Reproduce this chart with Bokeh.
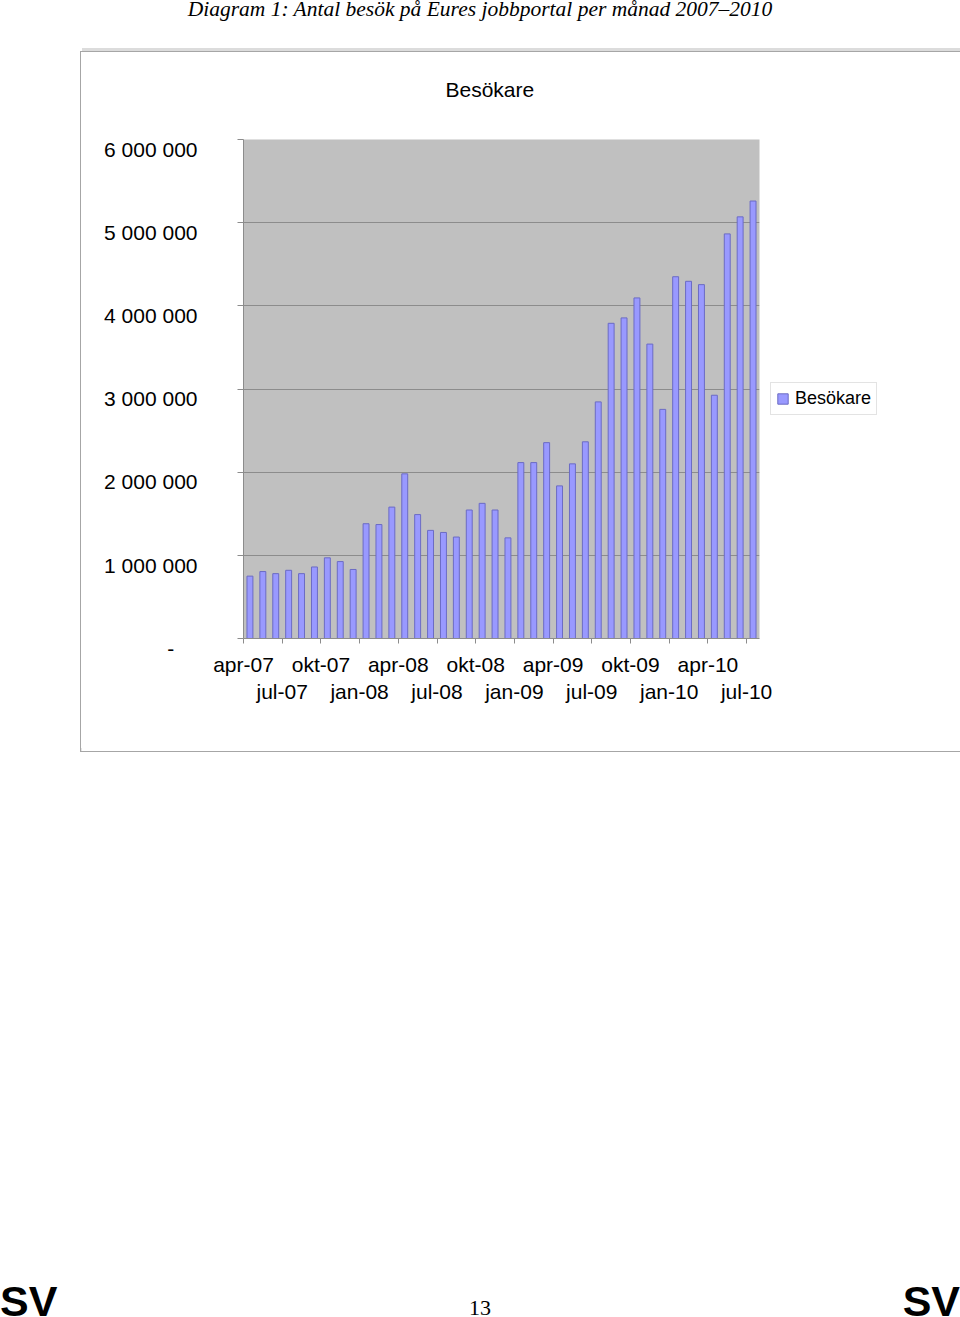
from bokeh.plotting import figure
from bokeh.models import Range1d, FixedTicker, Legend, LegendItem, Div
from bokeh.layouts import column
from bokeh.embed import file_html
from bokeh.resources import INLINE

# ---------------- data ----------------
months = [
    "apr-07", "maj-07", "jun-07", "jul-07", "aug-07", "sep-07", "okt-07", "nov-07", "dec-07",
    "jan-08", "feb-08", "mar-08", "apr-08", "maj-08", "jun-08", "jul-08", "aug-08", "sep-08",
    "okt-08", "nov-08", "dec-08", "jan-09", "feb-09", "mar-09", "apr-09", "maj-09", "jun-09",
    "jul-09", "aug-09", "sep-09", "okt-09", "nov-09", "dec-09", "jan-10", "feb-10", "mar-10",
    "apr-10", "maj-10", "jun-10", "jul-10",
]
visitors = [
    750000, 805000, 780000, 820000, 780000, 860000, 970000, 925000, 830000,
    1380000, 1370000, 1580000, 1980000, 1490000, 1300000, 1275000, 1220000, 1545000,
    1625000, 1545000, 1210000, 2115000, 2115000, 2355000, 1835000, 2100000, 2365000,
    2845000, 3790000, 3855000, 4095000, 3540000, 2755000, 4350000, 4295000, 4255000,
    2925000, 4865000, 5070000, 5260000,
]
y_ticks = [0, 1000000, 2000000, 3000000, 4000000, 5000000, 6000000]
y_tick_labels = ["-\u00a0\u00a0\u00a0\u00a0", "1 000 000", "2 000 000", "3 000 000",
                 "4 000 000", "5 000 000", "6 000 000"]
label_step = 3
series_name = "Besökare"
chart_title = "Besökare"
page_title = "Diagram 1: Antal besök på Eures jobbportal per månad 2007–2010"
page_number = "13"
lang_mark = "SV"

FONT = "Liberation Sans"
GRID = "#8c8c8c"

x = list(range(len(months)))

p = figure(
    frame_width=514, frame_height=497,
    min_border_left=162, min_border_right=119, min_border_top=87, min_border_bottom=115,
    x_range=Range1d(-0.5, len(months) - 0.5),
    y_range=Range1d(y_ticks[0], y_ticks[-1]),
    output_backend="svg", toolbar_location=None,
    background_fill_color="#c0c0c0", border_fill_color="white",
    outline_line_color=None,
)
p.styles = {"border": "1px solid #a6a6a6",
            "box-shadow": "0 -5px 0 -2px #dcdcdc, inset 0 -6px 0 -3px #dcdcdc",
            "justify-self": "start", "align-self": "start"}
p.margin = (0, 0, 0, 80)

# title block: an empty second line lifts the title further from the plot area
p.title.text = chart_title + "\n"
p.title.align = "left"
p.title.offset = 202
p.title.standoff = 32
p.title.text_font = FONT
p.title.text_font_size = "21px"
p.title.text_font_style = "normal"
p.title.text_line_height = 1.0
p.title.text_color = "black"

r = p.vbar(x=x, top=visitors, width=0.46, fill_color="#9999ff",
           line_color="#6b6bc4", line_width=1)

# y axis (labels sit just below their gridline, as in the original)
ya = p.yaxis[0]
ya.ticker = FixedTicker(ticks=y_ticks)
ya.major_label_overrides = {t: "\n" + l for t, l in zip(y_ticks, y_tick_labels)}
ya.major_tick_out = 6
ya.major_tick_in = 0
ya.minor_tick_line_color = None
ya.axis_line_color = GRID
ya.major_tick_line_color = GRID
ya.major_label_text_font = FONT
ya.major_label_text_font_size = "21px"
ya.major_label_text_color = "black"
ya.major_label_text_line_height = 0.85
ya.major_label_standoff = 40

p.ygrid.ticker = FixedTicker(ticks=y_ticks)
p.ygrid.grid_line_color = GRID
p.xgrid.visible = False

# x axis: tick every 3 months, labels staggered on two rows
tick_idx = list(range(0, len(months), label_step))
xa = p.xaxis[0]
xa.ticker = FixedTicker(ticks=[i - 0.5 for i in tick_idx])
xa.major_label_overrides = {
    i - 0.5: (months[i] if k % 2 == 0 else "\n" + months[i]) for k, i in enumerate(tick_idx)
}
xa.major_label_text_font = FONT
xa.major_label_text_font_size = "21px"
xa.major_label_text_color = "black"
xa.major_label_text_line_height = 1.2
xa.major_label_standoff = 9
xa.major_tick_out = 5
xa.major_tick_in = 0
xa.minor_tick_line_color = None
xa.axis_line_color = GRID
xa.major_tick_line_color = GRID

# legend just right of the plot area (px offsets within the right-hand panel)
legend = Legend(
    items=[LegendItem(label=series_name, renderers=[r])],
    location=(11, 223), margin=0, padding=5, spacing=0,
    glyph_width=13, glyph_height=13, label_standoff=6,
    label_text_font=FONT, label_text_font_size="18px", label_text_color="black",
    border_line_color="#c8c8c8", background_fill_color="white", background_fill_alpha=1,
)
p.add_layout(legend, "right")

title_div = Div(
    text=('<div style="font-family:\'Liberation Serif\';font-style:italic;font-size:21.5px;'
          'line-height:20px;text-align:center;width:960px;margin-top:-1px;white-space:nowrap;">'
          + page_title + '</div>'),
    width=960, height=51, margin=0,
)

footer_div = Div(
    text=('<div style="position:relative;width:960px;height:560px;">'
          '<span style="position:absolute;left:0;top:532px;font-family:\'Liberation Sans\';'
          'font-weight:bold;font-size:43px;line-height:34px;">' + lang_mark + '</span>'
          '<span style="position:absolute;left:0;width:960px;text-align:center;top:547px;'
          'font-family:\'Liberation Serif\';font-size:22px;line-height:18px;">' + page_number + '</span>'
          '<span style="position:absolute;right:0;top:532px;font-family:\'Liberation Sans\';'
          'font-weight:bold;font-size:43px;line-height:34px;">' + lang_mark + '</span>'
          '</div>'),
    width=960, height=560, margin=0,
)

layout = column(title_div, p, footer_div, spacing=0)

open("out.html", "w").write(file_html(layout, INLINE))
